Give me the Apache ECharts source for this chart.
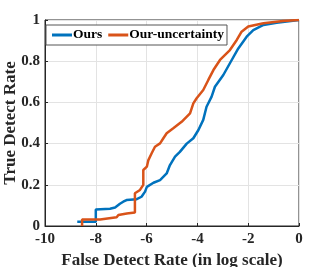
<!DOCTYPE html>
<html><head><meta charset="utf-8">
<script src="https://cdn.jsdelivr.net/npm/echarts@6/dist/echarts.min.js"></script>
<style>html,body{margin:0;padding:0;background:#fff}#c{width:330px;height:267px}</style>
</head><body><div id="c"></div>
<script>
const xTicks = [-10, -8, -6, -4, -2, 0];
const yTicks = [0, 0.2, 0.4, 0.6, 0.8, 1];
const oursX = [-8.73,-8.0,-8.0,-7.44,-7.24,-7.05,-6.92,-6.79,-6.39,-6.2,-6.06,-5.99,-5.73,-5.47,-5.21,-5.08,-4.88,-4.69,-4.42,-4.16,-3.96,-3.77,-3.64,-3.44,-3.31,-2.98,-2.72,-2.39,-2.06,-1.80,-1.40,-0.88,0];
const oursY = [0.021,0.021,0.08,0.084,0.09,0.108,0.118,0.126,0.13,0.142,0.167,0.19,0.21,0.223,0.255,0.296,0.337,0.36,0.40,0.426,0.466,0.515,0.579,0.628,0.676,0.733,0.79,0.862,0.919,0.951,0.976,0.987,1.0];
const uncX = [-8.54,-8.54,-7.83,-7.18,-7.11,-6.78,-6.46,-6.46,-6.26,-6.13,-6.13,-5.99,-5.93,-5.8,-5.67,-5.47,-5.34,-5.21,-4.95,-4.62,-4.29,-4.16,-4.03,-3.77,-3.57,-3.37,-3.11,-2.72,-2.45,-2.26,-2.0,-1.40,-0.63,0];
const uncY = [0,0.032,0.032,0.042,0.053,0.061,0.066,0.159,0.175,0.2,0.272,0.288,0.32,0.353,0.385,0.401,0.426,0.45,0.474,0.506,0.547,0.595,0.62,0.66,0.709,0.757,0.806,0.854,0.903,0.943,0.968,0.984,0.995,1.0];
const seriesNames = ['Ours', 'Our-uncertainty'];
const colors = ['#0072BD', '#D95319'];
const zip = (a, b) => a.map((v, i) => [v, b[i]]);
const font = 'Liberation Serif';
const chart = echarts.init(document.getElementById('c'));
const axisCommon = {
  axisLine: {show: true, onZero: false, lineStyle: {color: '#262626', width: 1}},
  axisTick: {show: true, inside: true, length: 3, lineStyle: {color: '#262626'}},
  splitLine: {show: true, lineStyle: {color: '#e3e3e3', width: 1}},
  axisLabel: {fontFamily: font, fontWeight: 'bold', fontSize: 15, color: '#262626'},
  nameTextStyle: {fontFamily: font, fontWeight: 'bold', fontSize: 17, color: '#262626'}
};
chart.setOption({
  animation: false,
  grid: {left: 45, right: 31, top: 20, bottom: 41, show: true, borderColor: '#262626', borderWidth: 1, containLabel: false, outerBoundsMode: 'none'},
  legend: {
    data: seriesNames, left: 46, top: 25, orient: 'horizontal',
    icon: 'rect', itemWidth: 20, itemHeight: 3, itemGap: 6,
    borderColor: '#555', borderWidth: 1, padding: [3, 3, 3, 6],
    backgroundColor: '#fff',
    textStyle: {fontFamily: font, fontWeight: 'bold', fontSize: 13.5, lineHeight: 14, color: '#000', padding: [0, 0, 0, -4]}
  },
  xAxis: Object.assign({}, axisCommon, {
    type: 'value', min: -10, max: 0, interval: 2,
    name: 'False Detect Rate (in log scale)', nameLocation: 'middle', nameGap: 25,
    axisLabel: Object.assign({}, axisCommon.axisLabel, {margin: 6})
  }),
  yAxis: Object.assign({}, axisCommon, {
    type: 'value', min: 0, max: 1, interval: 0.2,
    name: 'True Detect Rate', nameLocation: 'middle', nameGap: 26, nameMoveOverlap: false,
    axisLabel: Object.assign({}, axisCommon.axisLabel, {margin: 5, formatter: v => (v === 0 || v === 1) ? String(v) : v.toFixed(1)})
  }),
  series: [
    {name: seriesNames[0], type: 'line', data: zip(oursX, oursY), showSymbol: false, symbol: 'none', lineStyle: {color: colors[0], width: 2.5}, itemStyle: {color: colors[0]}},
    {name: seriesNames[1], type: 'line', data: zip(uncX, uncY), showSymbol: false, symbol: 'none', lineStyle: {color: colors[1], width: 2.5}, itemStyle: {color: colors[1]}}
  ]
});
</script></body></html>
